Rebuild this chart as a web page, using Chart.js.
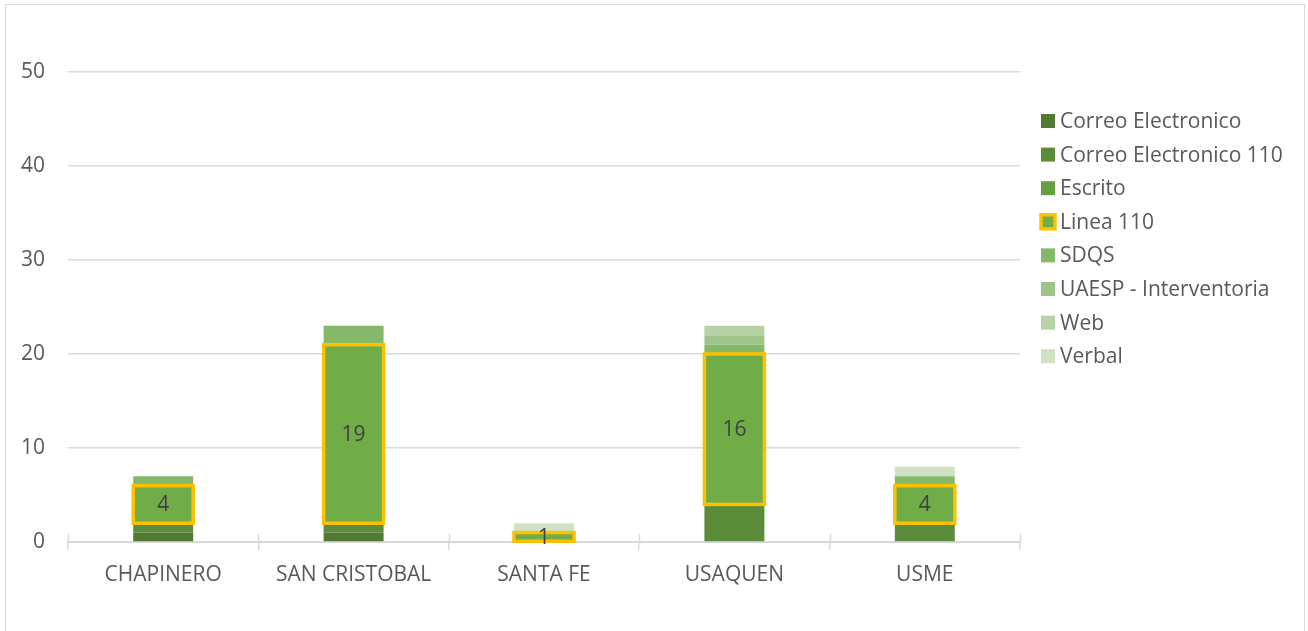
<!DOCTYPE html>
<html>
<head>
<meta charset="utf-8">
<script src="https://cdn.jsdelivr.net/npm/chart.js@4.4.1/dist/chart.umd.min.js"></script>
<style>
  html, body { margin: 0; padding: 0; background: #ffffff; }
  #wrap { position: relative; width: 1308px; height: 631px; overflow: hidden; }
  #frame { position: absolute; left: 5px; top: 4px; width: 1300px; height: 660px; border: 1px solid #d9d9d9; box-sizing: border-box; pointer-events: none; }
  canvas { position: absolute; left: 0; top: 0; }
</style>
</head>
<body>
<div id="wrap">
  <canvas id="c" width="1308" height="631"></canvas>
  <div id="frame"></div>
</div>
<script>
const categories = ["CHAPINERO", "SAN CRISTOBAL", "SANTA FE", "USAQUEN", "USME"];
const correoElectronico    = [1, 1, 0, 0, 0];
const correoElectronico110 = [1, 1, 0, 4, 2];
const escrito              = [0, 0, 0, 0, 0];
const linea110             = [4, 19, 1, 16, 4];
const sdqs                 = [1, 2, 0, 1, 1];
const uaespInterventoria   = [0, 0, 0, 1, 0];
const web                  = [0, 0, 0, 1, 0];
const verbal               = [0, 0, 1, 0, 1];
const yTicks = [0, 10, 20, 30, 40, 50];

const FONT = "'Open Sans', 'Noto Sans', sans-serif";
const TEXT = "#595959";
const GRID = "#d9d9d9";
const HIGHLIGHT = "Linea 110";

const seriesDefs = [
  { label: "Correo Electronico", data: correoElectronico, color: "#507b30" },
  { label: "Correo Electronico 110", data: correoElectronico110, color: "#5a8c3a" },
  { label: "Escrito", data: escrito, color: "#64a041" },
  { label: "Linea 110", data: linea110, color: "#70ad47" },
  { label: "SDQS", data: sdqs, color: "#86b86a" },
  { label: "UAESP - Interventoria", data: uaespInterventoria, color: "#9fc48a" },
  { label: "Web", data: web, color: "#b6d2a6" },
  { label: "Verbal", data: verbal, color: "#d0e1c6" }
];

const datasets = seriesDefs.map(s => ({
  label: s.label,
  data: s.data,
  backgroundColor: s.color,
  borderWidth: 0,
  barPercentage: 0.315,
  categoryPercentage: 1.0,
  stack: "s"
}));

const overlayPlugin = {
  id: "overlay",
  afterDatasetsDraw(chart) {
    const ctx = chart.ctx;
    const area = chart.chartArea;
    // small tick marks above the axis line at category boundaries
    ctx.save();
    ctx.strokeStyle = GRID;
    ctx.lineWidth = 1.5;
    const n = categories.length;
    const step = (area.right - area.left) / n;
    for (let i = 0; i <= n; i++) {
      const x = Math.round(area.left + step * i) + 0.5;
      ctx.beginPath();
      ctx.moveTo(x, area.bottom - 8);
      ctx.lineTo(x, area.bottom);
      ctx.stroke();
    }
    ctx.restore();

    // highlighted series border + labels
    chart.data.datasets.forEach((ds, di) => {
      if (ds.label !== HIGHLIGHT) return;
      const meta = chart.getDatasetMeta(di);
      meta.data.forEach((el, i) => {
        const v = ds.data[i];
        if (!v) return;
        const p = el.getProps(["x", "y", "base", "width"], true);
        const left = p.x - p.width / 2;
        const top = Math.min(p.y, p.base);
        const h = Math.abs(p.base - p.y);
        ctx.save();
        ctx.strokeStyle = "#ffc000";
        ctx.lineWidth = 3.5;
        ctx.strokeRect(left, top, p.width, h);
        ctx.fillStyle = "#404040";
        ctx.font = "21px " + FONT;
        ctx.textAlign = "center";
        ctx.textBaseline = "middle";
        ctx.fillText(String(v), p.x, top + h / 2 + 1);
        ctx.restore();
      });
    });
  },
  afterDraw(chart) {
    const ctx = chart.ctx;
    ctx.save();
    ctx.font = "21px " + FONT;
    ctx.textBaseline = "middle";
    ctx.textAlign = "left";
    chart.data.datasets.forEach((ds, i) => {
      const cy = 121 + i * 33.6;
      const bx = 1041, bs = 14;
      ctx.fillStyle = ds.backgroundColor;
      ctx.fillRect(bx, cy - bs / 2, bs, bs);
      if (ds.label === HIGHLIGHT) {
        ctx.strokeStyle = "#ffc000";
        ctx.lineWidth = 3.5;
        ctx.strokeRect(bx, cy - bs / 2, bs, bs);
      }
      ctx.fillStyle = TEXT;
      ctx.fillText(ds.label, 1060, cy + 1);
    });
    ctx.restore();
  }
};

new Chart(document.getElementById("c"), {
  type: "bar",
  data: { labels: categories, datasets },
  plugins: [overlayPlugin],
  options: {
    responsive: false,
    animation: false,
    maintainAspectRatio: false,
    layout: { padding: { left: 0, top: 72, right: 288, bottom: 0 } },
    plugins: {
      legend: { display: false },
      tooltip: { enabled: false }
    },
    scales: {
      x: {
        stacked: true,
        afterFit(scale) { scale.height = 89; },
        grid: {
          offset: true,
          drawOnChartArea: false,
          drawTicks: true,
          tickLength: 8,
          color: GRID,
          lineWidth: 1.5
        },
        border: { display: true, color: GRID, width: 2 },
        ticks: {
          color: TEXT,
          font: { family: FONT, size: 21 },
          padding: 12,
          maxRotation: 0
        }
      },
      y: {
        stacked: true,
        min: 0,
        max: 50,
        afterFit(scale) { scale.width = 68; },
        afterBuildTicks(scale) { scale.ticks = yTicks.map(v => ({ value: v })); },
        grid: { drawTicks: false, color: GRID, lineWidth: 1.5 },
        border: { display: false },
        ticks: {
          color: TEXT,
          font: { family: FONT, size: 21 },
          padding: 23
        }
      }
    }
  }
});
</script>
</body>
</html>
